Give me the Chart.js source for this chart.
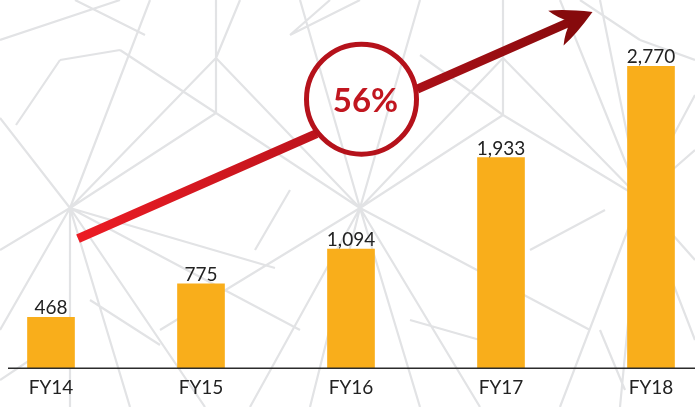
<!DOCTYPE html>
<html>
<head>
<meta charset="utf-8">
<script src="https://cdn.jsdelivr.net/npm/chart.js@4"></script>
<style>
  html, body { margin: 0; padding: 0; background: #fff; }
  #wrap { width: 695px; height: 407px; position: relative; }
</style>
</head>
<body>
<div id="wrap"><canvas id="revChart"></canvas></div>
<script>
const years = ['FY14', 'FY15', 'FY16', 'FY17', 'FY18'];
const revenue = [468, 775, 1094, 1933, 2770];
const growthLabel = '56%';

// arrow path in chart units (category index, value)
const arrowFrom = [0.18, 1190];
const arrowTo = [3.61, 3270];
const circleAt = [2.07, 2470];

// grey decorative pattern behind the chart (pixels)
const stars = [
    { c: [70, 208], to: [[216, 58], [216, 113], [0, 118], [0, 250], [0, 330], [70, 407], [130, 407], [205, 407], [300, 330], [275, 268], [150, 0]] },
    { c: [360, 208], to: [[216, 58], [216, 113], [503, 58], [503, 115], [250, 407], [310, 407], [420, 407], [480, 407], [160, 330], [590, 330], [300, 0], [420, 0]] },
    { c: [640, 198], to: [[503, 58], [503, 115], [695, 95], [695, 150], [695, 260], [560, 407], [620, 407], [695, 340], [560, 0], [600, 0]] }
];
const extraLines = [
    [216, 0, 216, 113], [503, 0, 503, 115], [0, 40, 120, 0], [75, 0, 145, 35],
    [120, 50, 216, 113], [240, 0, 216, 58], [330, 0, 290, 35], [290, 35, 360, 0],
    [16, 125, 60, 60], [60, 60, 120, 50], [420, 55, 503, 115], [580, 0, 640, 40],
    [640, 40, 695, 60], [255, 250, 290, 190], [410, 320, 480, 340], [480, 340, 520, 300],
    [530, 250, 605, 210], [600, 330, 625, 390], [90, 300, 160, 345], [0, 380, 60, 340]
];

const backdrop = {
    id: 'backdrop',
    beforeDraw(chart) {
        const ctx = chart.ctx;
        ctx.save();
        ctx.fillStyle = '#ffffff';
        ctx.fillRect(0, 0, chart.width, chart.height);
        ctx.strokeStyle = '#e2e3e5';
        ctx.lineWidth = 2.2;
        ctx.beginPath();
        stars.forEach(s => {
            s.to.forEach(t => {
                ctx.moveTo(s.c[0], s.c[1]);
                ctx.lineTo(t[0], t[1]);
            });
        });
        extraLines.forEach(l => {
            ctx.moveTo(l[0], l[1]);
            ctx.lineTo(l[2], l[3]);
        });
        ctx.stroke();
        ctx.restore();
    }
};

const decorations = {
    id: 'decorations',
    afterDatasetsDraw(chart) {
        const ctx = chart.ctx;
        const xs = chart.scales.x;
        const ys = chart.scales.y;
        const px = p => [xs.getPixelForValue(p[0]), ys.getPixelForValue(p[1])];

        ctx.save();
        // baseline
        const y0 = ys.getPixelForValue(0);
        ctx.strokeStyle = '#2b2b2b';
        ctx.lineWidth = 1.5;
        ctx.beginPath();
        ctx.moveTo(8, y0);
        ctx.lineTo(chart.width, y0);
        ctx.stroke();

        // value labels
        ctx.fillStyle = '#222222';
        ctx.font = '19px Lato, "Noto Sans", sans-serif';
        ctx.textAlign = 'center';
        ctx.textBaseline = 'alphabetic';
        const meta = chart.getDatasetMeta(0);
        meta.data.forEach((bar, i) => {
            ctx.fillText(revenue[i].toLocaleString('en-US'), bar.x, bar.y - 3);
        });

        // growth arrow
        const a = px(arrowFrom);
        const b = px(arrowTo);
        const c = px(circleAt);
        const r = 55;
        const ang = Math.atan2(b[1] - a[1], b[0] - a[0]);
        const ux = Math.cos(ang), uy = Math.sin(ang);
        const nx = -uy, ny = ux;
        const grad = ctx.createLinearGradient(a[0], a[1], b[0], b[1]);
        grad.addColorStop(0, '#ec1c24');
        grad.addColorStop(0.55, '#b5121b');
        grad.addColorStop(1, '#860a0c');

        // shaft: start -> circle, circle -> head
        const dAC = (c[0] - a[0]) * ux + (c[1] - a[1]) * uy;
        ctx.strokeStyle = grad;
        ctx.lineWidth = 9;
        ctx.lineCap = 'butt';
        ctx.beginPath();
        ctx.moveTo(a[0], a[1]);
        ctx.lineTo(a[0] + ux * (dAC - r), a[1] + uy * (dAC - r));
        ctx.moveTo(a[0] + ux * (dAC + r), a[1] + uy * (dAC + r));
        ctx.lineTo(b[0] - ux * 22, b[1] - uy * 22);
        ctx.stroke();

        // head with swept-back barbs
        const at = (back, side) => [b[0] - ux * back + nx * side, b[1] - uy * back + ny * side];
        const w1 = at(40, -19);
        const w2 = at(40, 19);
        const notch = at(24, 0);
        ctx.fillStyle = '#860a0c';
        ctx.beginPath();
        ctx.moveTo(b[0], b[1]);
        let cp = at(24, -14);
        ctx.quadraticCurveTo(cp[0], cp[1], w1[0], w1[1]);
        cp = at(34, -8);
        ctx.quadraticCurveTo(cp[0], cp[1], notch[0], notch[1]);
        cp = at(34, 8);
        ctx.quadraticCurveTo(cp[0], cp[1], w2[0], w2[1]);
        cp = at(24, 14);
        ctx.quadraticCurveTo(cp[0], cp[1], b[0], b[1]);
        ctx.fill();

        // circle
        ctx.strokeStyle = '#b5121b';
        ctx.lineWidth = 5;
        ctx.beginPath();
        ctx.arc(c[0], c[1], r, 0, Math.PI * 2);
        ctx.stroke();

        ctx.fillStyle = '#c1161f';
        ctx.font = 'bold 33px Lato, "Noto Sans", sans-serif';
        ctx.textAlign = 'center';
        ctx.textBaseline = 'middle';
        ctx.fillText(growthLabel, c[0] + 4, c[1] + 2);
        ctx.restore();
    }
};

const ctx = document.getElementById('revChart');
new Chart(ctx, {
    type: 'bar',
    data: {
        labels: years,
        datasets: [{
            data: revenue,
            backgroundColor: '#f9ae1b',
            barThickness: 47,
            clip: false
        }]
    },
    options: {
        responsive: true,
        maintainAspectRatio: false,
        animation: false,
        layout: { padding: { left: 51, right: 44, top: 0, bottom: 0 } },
        plugins: { legend: { display: false }, tooltip: { enabled: false } },
        scales: {
            x: {
                offset: false,
                grid: { display: false, drawTicks: false },
                border: { display: false },
                ticks: {
                    padding: 8,
                    color: '#222222',
                    font: { family: 'Lato, "Noto Sans", sans-serif', size: 19 },
                    maxRotation: 0
                }
            },
            y: {
                display: false,
                min: 0,
                max: 3380
            }
        }
    },
    plugins: [backdrop, decorations]
});
</script>
</body>
</html>
